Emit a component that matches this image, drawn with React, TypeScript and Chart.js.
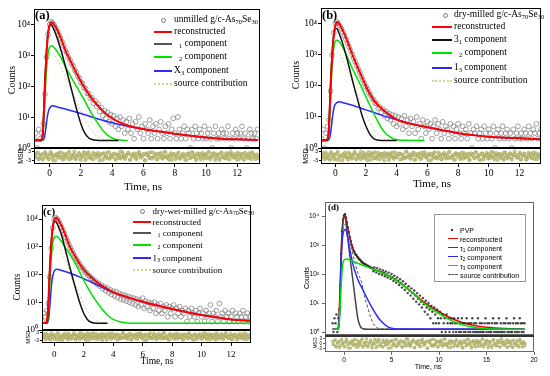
import React, { useEffect, useRef } from 'react';
import { Chart, registerables } from 'chart.js';
Chart.register(...registerables);

type P = [number, number];

const SERIF = '"Liberation Serif", "Times New Roman", serif';
const SANS = '"Liberation Sans", Arial, sans-serif';

const Y_TICKS = [1, 10, 100, 1000, 10000];
const Y_LABELS = ['10⁰', '10¹', '10²', '10³', '10⁴'];
const X_TICKS_ABC = [0, 2, 4, 6, 8, 10, 12];
const X_TICKS_D = [0, 5, 10, 15, 20];
const RES_TICKS = [-3, 0, 3];

// ---------- measured counts (time grid: start + 0.1 ns steps) ----------
const A_DATA = [2,3,1,4,2,3,6,55,850,4600,9600,11900,10800,9100,7400,5900,4500,3500,2650,1980,1430,1160,860,700,530,440,330,275,205,178,132,120,88,82,58,57,40,42,28,33,22,26,15,20,11,16,9,14,7,12,6,11,5,9,4,10,5,8,3,7,4,9,3,6,2,7,4,10,3,5,2,6,4,3,8,2,5,3,6,2,4,7,3,2,5,3,6,2,4,9,3,2,10,4,2,3,5,2,4,3,1,4,2,5,3,2,4,3,2,5,2,3,4,2,1,3,5,2,3,2,4,3,2,3,5,2,1,3,2,4,3,2,3,5,2,3,1,2,4,3,2,3,2,4];
const B_DATA = [2,4,1,3,5,8,70,1000,5200,10000,11700,10500,8700,7000,5500,4200,3200,2400,1850,1400,1050,800,610,460,350,270,205,160,122,96,80,62,52,40,36,28,27,19,21,14,18,11,15,9,13,8,12,6,11,5,10,6,9,4,11,5,8,3,9,5,7,3,10,4,6,2,8,5,3,7,4,6,2,5,8,3,6,4,2,7,3,5,4,2,6,3,5,2,4,6,3,2,5,3,4,2,6,3,1,4,3,5,2,3,4,2,5,3,2,4,3,2,5,1,3,4,2,3,5,2,3,4,2,3,1,4,2,3,5,2,3,2,4,3,2,5,3,2,4,3,6,2,3,4];
const C_DATA = [2,4,3,5,9,80,900,4800,9500,11200,10200,8400,6600,5100,3900,2900,2150,1600,1200,920,720,560,450,360,300,245,200,172,148,120,112,92,88,72,70,56,58,45,48,38,42,31,36,26,32,22,28,19,25,17,24,15,21,13,19,12,18,11,16,10,15,9,14,8,13,7,12,8,14,6,11,7,10,5,9,6,10,4,8,5,9,4,7,5,8,3,7,4,6,8,3,6,4,7,3,5,4,6,2,5,3,6,4,3,5,2,4,6,3,4,2,5,3,4,8,2,4,3,5,2,9,3,4,2,5,3,4,2,3,5,2,4,3,2,4,3,5,2,3,4,2,3,4];
const D_DATA = [2,1,3,2,4,1,3,6,40,500,3000,7500,10500,11500,9000,6000,4000,2800,1900,1380,990,810,650,575,480,450,385,365,322,312,272,265,236,232,212,214,192,195,176,180,163,166,152,125,170,138,112,160,128,100,145,118,92,132,108,84,122,96,76,112,86,68,100,78,58,88,66,50,76,58,42,66,48,34,56,40,28,46,33,22,38,27,18,32,22,14,27,18,11,22,14,9,18,11,7,15,9,5,12,7,4,10,6,3,8,5,2,7,4,2,6,3,2,5,3,1,4,2,3,1,4,2,3,1,2,3,2,1,3,2,1,2,3,1,2,1,3,2,1,2,1,3,2,1,2,1,2,3,1,2,1,2,1,3,1,2,1,2,1,1,2,3,1,2,1,2,1,1,2,3,1,2,1,2,1,3,1,2,1,1,2,1,2,3,1,2,1,2,1,1,2,3,1,2,1,2,1,3,2,1,2,1,2];

// ---------- residuals ----------
const RES1 = [1.2,-0.8,2.1,-1.5,0.3,-2.4,1.7,-0.2,0.9,-1.9,2.6,-0.6,0.1,-2.8,1.4,0.7,-1.1,2.2,-0.4,-1.7,0.8,1.9,-2.2,0.5,-0.9,2.8,-1.3,0.2,1.1,-2.6,0.6,-0.3,1.8,-1.6,2.4,-0.7,0.4,-2.1,1.3,-1.0,2.0,-0.5,0.9,-2.5,1.6,-0.1,-1.4,2.3,-0.8,0.7,1.5,-2.0,0.3,-1.2,2.7,-0.6,1.0,-1.8,0.2,2.1,-2.3,0.8,-0.4,1.7,-1.5,0.5,2.5,-1.1,-0.2,1.2,-2.7,0.6,1.9,-0.9,-1.6,2.2,0.1,-2.0,1.4,-0.5,0.9,-1.3,2.6,-0.7,0.3,-2.4,1.8,-0.2,1.1,-1.9,0.6,2.0,-1.0,-0.6,1.5,-2.2,0.4,1.3,-1.4,2.4,-0.3,0.7,-2.6,1.6,-0.8,0.2,1.9,-1.7,0.5,-0.1,2.3,-2.1,1.0,-0.4,1.4,-1.2,0.8,-2.5,2.1,0.3,-0.9,1.7,-1.6,0.6,2.8,-0.5,-1.1,1.2,-2.3,0.4,1.5,-0.7,-1.8,2.0,0.1,-1.3,0.9,-2.0,1.6,-0.2,0.7,-1.5];
const RES2 = [-0.6,1.8,-2.1,0.4,1.1,-1.4,2.5,-0.3,-1.9,0.9,1.6,-2.6,0.2,0.8,-1.0,2.2,-0.5,-2.3,1.3,0.1,-0.8,2.7,-1.6,0.6,1.0,-2.0,0.3,1.9,-1.2,-0.4,2.4,-2.5,0.7,1.4,-0.9,-1.7,2.0,0.5,-0.2,1.2,-2.8,0.9,1.7,-1.1,0.0,2.3,-1.8,0.4,-0.7,1.5,-2.2,1.1,0.6,-1.5,2.6,-0.4,-1.0,0.8,1.8,-2.4,0.2,1.3,-0.6,-1.9,2.1,0.7,-0.1,1.0,-2.7,1.6,0.3,-1.3,2.4,-0.8,-0.3,1.2,-2.0,0.9,1.9,-1.6,0.1,2.5,-1.2,-0.5,0.6,-2.3,1.4,0.8,-0.9,2.0,-1.7,0.2,1.1,-0.4,-2.6,1.7,0.5,-1.1,2.3,-0.2,-1.8,0.9,1.5,-2.1,0.4,0.0,1.3,-1.4,2.6,-0.7,-0.2,1.8,-2.5,0.6,1.0,-1.3,2.2,-0.6,-1.5,0.3,1.6,-2.2,0.8,1.2,-0.9,-0.1,2.1,-1.9,0.5,1.4,-2.4,0.2,-0.6,1.7,-1.2,2.4,0.1,-2.0,0.9,-0.3];

// ---------- fitted curves ----------
const A_RECON: P[] = [[-1.0,1.8],[-0.6,1.8],[-0.5,2.0],[-0.42,4],[-0.35,25],[-0.28,200],[-0.2,1100],[-0.12,3800],[-0.04,7800],[0.05,10800],[0.12,11500],[0.2,11000],[0.35,8600],[0.5,6200],[0.75,3200],[1.0,1450],[1.25,780],[1.5,430],[1.75,240],[2.0,140],[2.25,85],[2.5,55],[2.75,37],[3.0,26],[3.5,14],[4.0,9],[4.5,6.6],[5.0,5.3],[5.5,4.6],[6.0,4.1],[7.0,3.4],[8.0,2.9],[9.0,2.5],[10.0,2.2],[11.0,2.0],[12.0,1.9],[13.3,1.8]];
const A_T1: P[] = [[-1.0,1.75],[-0.55,1.75],[-0.45,2.5],[-0.38,15],[-0.3,150],[-0.22,1000],[-0.14,3500],[-0.05,7500],[0.05,9500],[0.12,9300],[0.25,7000],[0.5,3300],[0.75,1300],[1.0,450],[1.25,150],[1.5,48],[1.75,16],[2.0,6],[2.25,3],[2.5,2.1],[2.75,1.85],[3.0,1.78],[3.5,1.75],[4.4,1.75]];
const A_T2: P[] = [[-1.0,1.75],[-0.5,1.75],[-0.42,2.5],[-0.35,12],[-0.27,90],[-0.18,500],[-0.08,1300],[0.05,1950],[0.15,2000],[0.3,1700],[0.5,1250],[0.75,780],[1.0,420],[1.25,250],[1.5,150],[1.75,90],[2.0,55],[2.25,33],[2.5,19],[2.75,11.5],[3.0,7.2],[3.25,4.7],[3.5,3.3],[3.75,2.5],[4.0,2.1],[4.25,1.9],[4.5,1.8],[5.0,1.75]];
const A_T3: P[] = [[-1.0,1.75],[-0.5,1.75],[-0.35,2.0],[-0.25,4],[-0.15,10],[-0.05,17],[0.05,21],[0.2,23],[0.5,21],[1.0,18],[2.0,13],[3.0,9],[4.0,6.5],[5.0,5.0],[6.0,4.0],[7.0,3.4],[8.0,2.9],[9.0,2.5],[10.0,2.2],[11.0,2.0],[12.0,1.9],[13.3,1.8]];
const A_SRC: P[] = [[-1.0,1.75],[-0.5,1.75],[-0.4,2.5],[-0.32,15],[-0.24,120],[-0.15,500],[-0.05,1000],[0.1,1250],[0.25,1100],[0.5,700],[0.75,380],[1.0,200],[1.25,105],[1.5,55],[1.75,28],[2.0,15],[2.25,8.5],[2.5,5],[2.75,3.3],[3.0,2.5],[3.25,2.1],[3.5,1.9],[4.0,1.78],[4.5,1.75]];

const B_RECON: P[] = [[-0.93,1.8],[-0.6,1.8],[-0.48,2.2],[-0.4,6],[-0.33,40],[-0.26,280],[-0.18,1300],[-0.1,4000],[-0.02,8000],[0.06,10800],[0.12,11500],[0.2,11000],[0.35,8400],[0.5,6000],[0.75,3100],[1.0,1450],[1.25,700],[1.5,360],[1.75,185],[2.0,98],[2.25,56],[2.5,35],[2.75,25],[3.0,19],[3.5,12],[4.0,8.2],[4.5,6.8],[5.0,5.9],[6.0,4.7],[7.0,3.7],[8.0,3.0],[9.0,2.6],[10.0,2.3],[11.0,2.15],[12.0,2.05],[13.4,1.9]];
const B_T1: P[] = [[-0.93,1.75],[-0.55,1.75],[-0.45,2.5],[-0.38,15],[-0.3,150],[-0.22,900],[-0.14,3000],[-0.05,6200],[0.05,7200],[0.12,7000],[0.25,5000],[0.5,2200],[0.75,800],[1.0,260],[1.25,85],[1.5,30],[1.75,11],[2.0,5],[2.25,2.8],[2.5,2.0],[2.75,1.8],[3.0,1.76],[4.0,1.75]];
const B_T2: P[] = [[-0.93,1.75],[-0.5,1.75],[-0.42,2.5],[-0.35,14],[-0.27,120],[-0.18,700],[-0.08,2000],[0.05,2900],[0.15,3000],[0.3,2500],[0.5,1700],[0.75,950],[1.0,480],[1.25,270],[1.5,150],[1.75,82],[2.0,44],[2.25,24],[2.5,13],[2.75,7.5],[3.0,4.5],[3.25,3.1],[3.5,2.4],[3.75,2.0],[4.0,1.85],[4.5,1.77],[5.8,1.75]];
const B_T3: P[] = [[-0.93,1.75],[-0.5,1.75],[-0.35,2.2],[-0.25,5],[-0.15,13],[-0.05,23],[0.1,29],[0.25,31],[0.5,29],[1.0,25],[2.0,17],[3.0,11.5],[4.0,8.2],[5.0,5.9],[6.0,4.7],[7.0,3.7],[8.0,3.0],[9.0,2.6],[10.0,2.3],[11.0,2.15],[12.0,2.05],[13.4,1.9]];
const B_SRC: P[] = [[-0.93,1.75],[-0.5,1.75],[-0.4,2.5],[-0.32,15],[-0.24,120],[-0.15,500],[-0.05,1000],[0.1,1250],[0.25,1100],[0.5,700],[0.75,370],[1.0,190],[1.25,95],[1.5,48],[1.75,24],[2.0,13],[2.25,7],[2.5,4.3],[2.75,3.0],[3.0,2.4],[3.25,2.0],[3.5,1.85],[4.0,1.76],[4.5,1.75]];

const C_RECON: P[] = [[-0.83,1.8],[-0.6,1.8],[-0.5,2.2],[-0.42,6],[-0.35,40],[-0.28,280],[-0.2,1300],[-0.12,4000],[-0.04,7800],[0.04,10300],[0.12,11000],[0.2,10500],[0.35,8000],[0.5,5600],[0.75,2700],[1.0,1200],[1.25,640],[1.5,380],[1.75,230],[2.0,150],[2.5,80],[3.0,48],[3.5,33],[4.0,23],[5.0,15],[6.0,10.5],[7.0,7.6],[8.0,5.7],[9.0,4.4],[10.0,3.5],[11.0,2.9],[12.0,2.4],[13.35,2.1]];
const C_T1: P[] = [[-0.83,1.75],[-0.55,1.75],[-0.45,2.5],[-0.38,15],[-0.3,150],[-0.22,1000],[-0.14,3500],[-0.05,7000],[0.05,8200],[0.12,8000],[0.25,5800],[0.5,2600],[0.75,800],[1.0,240],[1.25,75],[1.5,25],[1.75,9],[2.0,4],[2.25,2.4],[2.5,1.9],[2.75,1.78],[3.0,1.75],[3.6,1.75]];
const C_T2: P[] = [[-0.83,1.75],[-0.5,1.75],[-0.42,2.5],[-0.35,12],[-0.27,100],[-0.18,600],[-0.08,1600],[0.05,2300],[0.15,2400],[0.3,2100],[0.5,1500],[0.75,950],[1.0,600],[1.25,360],[1.5,210],[1.75,115],[2.0,62],[2.25,35],[2.5,21],[2.75,13],[3.0,8.5],[3.25,5.6],[3.5,4.0],[3.75,3.0],[4.0,2.4],[4.5,1.95],[5.0,1.8],[6.0,1.75],[13.35,1.75]];
const C_T3: P[] = [[-0.83,1.75],[-0.5,1.75],[-0.38,2.5],[-0.28,10],[-0.18,45],[-0.08,100],[0.05,145],[0.2,155],[0.5,140],[1.0,115],[2.0,70],[3.0,40],[3.5,30],[4.0,23],[5.0,15],[6.0,10.5],[7.0,7.6],[8.0,5.7],[9.0,4.4],[10.0,3.5],[11.0,2.9],[12.0,2.4],[13.35,2.1]];
const C_SRC: P[] = [[-0.83,1.75],[-0.5,1.75],[-0.4,2.5],[-0.32,15],[-0.24,120],[-0.15,500],[-0.05,1000],[0.1,1200],[0.25,1050],[0.5,650],[0.75,330],[1.0,160],[1.25,75],[1.5,36],[1.75,17],[2.0,8.5],[2.25,4.8],[2.5,3.2],[2.75,2.4],[3.0,2.05],[3.25,1.88],[3.5,1.8],[4.0,1.75]];

const D_RECON: P[] = [[-1.2,1.25],[-0.7,1.25],[-0.6,1.6],[-0.5,5],[-0.4,40],[-0.3,500],[-0.2,3000],[-0.1,7500],[0.0,10500],[0.1,11500],[0.2,9000],[0.3,6000],[0.5,2800],[0.75,1250],[1.0,650],[1.5,360],[2.0,240],[2.5,190],[3.0,155],[4.0,110],[5.0,77],[6.0,47],[7.0,26],[8.0,14],[9.0,8],[10.0,5],[11.0,3.3],[12.0,2.4],[13.0,1.9],[14.0,1.6],[15.0,1.45],[17.0,1.32],[19.0,1.28]];
const D_T1: P[] = [[-1.2,1.25],[-0.6,1.25],[-0.5,3],[-0.4,30],[-0.3,400],[-0.2,2500],[-0.1,6500],[0.0,9500],[0.1,10500],[0.2,6500],[0.3,3200],[0.5,900],[0.7,250],[0.95,55],[1.2,12],[1.45,3],[1.7,1.6],[2.0,1.3],[2.5,1.25],[19.0,1.25]];
const D_T2: P[] = [[-1.2,1.25],[-0.6,1.25],[-0.5,2.5],[-0.4,20],[-0.3,250],[-0.2,1200],[-0.1,2500],[0.05,3300],[0.15,3400],[0.3,2600],[0.5,1100],[0.75,420],[1.0,180],[1.5,60],[2.0,28],[2.5,13],[3.0,6.5],[3.5,3.5],[4.0,2.2],[4.5,1.6],[5.0,1.35],[6.0,1.26],[19.0,1.25]];
const D_T3: P[] = [[-1.2,1.25],[-0.6,1.25],[-0.5,2],[-0.4,8],[-0.3,40],[-0.2,130],[-0.1,250],[0.1,320],[0.3,330],[0.6,300],[1.0,270],[2.0,200],[3.0,150],[4.0,110],[5.0,77],[6.0,47],[7.0,26],[8.0,13],[9.0,7],[10.0,4.3],[11.0,2.8],[12.0,2.0],[13.0,1.6],[14.0,1.4],[15.0,1.3],[16.0,1.27],[19.0,1.25]];
const D_SRC: P[] = [[-1.2,1.25],[-0.6,1.25],[-0.5,2],[-0.4,20],[-0.3,250],[-0.2,1500],[-0.1,3500],[0.05,5000],[0.15,5200],[0.3,3800],[0.5,2000],[0.75,900],[1.0,400],[1.25,190],[1.5,100],[1.83,55],[2.2,15],[2.5,7],[2.8,3.2],[3.2,1.7],[3.6,1.35],[4.0,1.27],[19.0,1.25]];

// ---------- colours ----------
const RED = '#ff0000';
const GREEN = '#00e000';
const BLUE = '#2a2aff';
const SRC_YEL = '#d2d29a';

interface Curve { pts: P[]; color: string; width: number; dash?: number[]; order: number }
interface Panel {
  L: number; R: number; T: number; B: number; RB: number; W: number; Hx: number;
  xMin: number; xMax: number; yMin: number; yMax: number; xTicks: number[];
  family: string; tickSize: number; resTickSize: number; xTickPad: number; yTickPad: number;
  data: number[]; dataX0: number; dot: boolean;
  resA: number[]; resB: number[]; resX0: number; resX1: number;
  curves: Curve[]; frame: string; sepW: number;
}

const PANELS: Panel[] = [
  { L: 34, R: 260, T: 9, B: 148, RB: 164, W: 34, Hx: 20, xMin: -1.0, xMax: 13.45, yMin: 1, yMax: 30500, xTicks: X_TICKS_ABC,
    family: SERIF, tickSize: 9.5, resTickSize: 5.5, xTickPad: 1, yTickPad: 1, data: A_DATA, dataX0: -1.0, dot: false,
    resA: RES1, resB: RES2, resX0: -0.95, resX1: 13.3, frame: '#000', sepW: 1,
    curves: [
      { pts: A_SRC, color: SRC_YEL, width: 1, dash: [2, 2], order: 6 },
      { pts: A_T3, color: BLUE, width: 1.5, order: 5 },
      { pts: A_T2, color: GREEN, width: 1.5, order: 4 },
      { pts: A_T1, color: '#111', width: 1.5, order: 3 },
      { pts: A_RECON, color: RED, width: 2, order: 1 },
    ] },
  { L: 321, R: 541, T: 8, B: 148, RB: 164, W: 40, Hx: 20, xMin: -0.93, xMax: 13.4, yMin: 1, yMax: 32800, xTicks: X_TICKS_ABC,
    family: SERIF, tickSize: 9.5, resTickSize: 5.5, xTickPad: 1, yTickPad: 1, data: B_DATA, dataX0: -0.9, dot: false,
    resA: RES2, resB: RES1, resX0: -0.9, resX1: 13.35, frame: '#000', sepW: 1,
    curves: [
      { pts: B_SRC, color: SRC_YEL, width: 1, dash: [2, 2], order: 6 },
      { pts: B_T3, color: BLUE, width: 1.5, order: 5 },
      { pts: B_T2, color: GREEN, width: 1.5, order: 4 },
      { pts: B_T1, color: '#111', width: 1.5, order: 3 },
      { pts: B_RECON, color: RED, width: 2, order: 1 },
    ] },
  { L: 42, R: 251, T: 205, B: 330, RB: 343, W: 40, Hx: 20, xMin: -0.83, xMax: 13.35, yMin: 1, yMax: 32000, xTicks: X_TICKS_ABC,
    family: SERIF, tickSize: 9, resTickSize: 5, xTickPad: 3, yTickPad: 1, data: C_DATA, dataX0: -0.8, dot: false,
    resA: RES2, resB: RES1, resX0: -0.8, resX1: 13.3, frame: '#000', sepW: 1,
    curves: [
      { pts: C_SRC, color: SRC_YEL, width: 1, dash: [2, 2], order: 6 },
      { pts: C_T3, color: BLUE, width: 1.5, order: 5 },
      { pts: C_T2, color: GREEN, width: 1.5, order: 4 },
      { pts: C_T1, color: '#111', width: 1.5, order: 3 },
      { pts: C_RECON, color: RED, width: 2, order: 1 },
    ] },
  { L: 325, R: 534, T: 202, B: 335, RB: 352, W: 40, Hx: 14, xMin: -2, xMax: 20, yMin: 0.79, yMax: 30400, xTicks: X_TICKS_D,
    family: SANS, tickSize: 6.5, resTickSize: 4.5, xTickPad: 1, yTickPad: 3, data: D_DATA, dataX0: -1.2, dot: true,
    resA: RES1, resB: RES2, resX0: -1.2, resX1: 19.0, frame: '#666', sepW: 2,
    curves: [
      { pts: D_RECON, color: RED, width: 1.5, order: 25 },
      { pts: D_SRC, color: '#555', width: 1, dash: [3, 2], order: 6 },
      { pts: D_T3, color: GREEN, width: 1.5, order: 3 },
      { pts: D_T2, color: BLUE, width: 1.5, order: 4 },
      { pts: D_T1, color: '#444', width: 1.5, order: 5 },
    ] },
];

const framePlugin = (color: string, topW: number) => ({
  id: 'frame',
  afterDraw(chart: any) {
    const { ctx, chartArea: a } = chart;
    ctx.save();
    ctx.strokeStyle = color;
    ctx.lineWidth = 1;
    ctx.strokeRect(a.left + 0.5, a.top + 0.5, a.right - a.left - 1, a.bottom - a.top - 1);
    if (topW > 1) {
      ctx.strokeStyle = '#333';
      ctx.lineWidth = topW;
      ctx.beginPath();
      ctx.moveTo(a.left, a.top + topW / 2);
      ctx.lineTo(a.right, a.top + topW / 2);
      ctx.stroke();
    }
    ctx.restore();
  },
});

const PAD_T = 4;
const PAD_R = 4;
const PAD_B = 6;

const noPad = (s: any) => { s.paddingTop = 0; s.paddingBottom = 0; s.paddingLeft = 0; s.paddingRight = 0; };

function mainConfig(p: Panel): any {
  const datasets: any[] = [
    {
      data: p.data.map((y, i) => ({ x: p.dataX0 + i * 0.1, y })),
      order: 20,
      pointRadius: p.dot ? 1.2 : 2.4,
      pointBorderWidth: p.dot ? 0 : 0.7,
      pointBorderColor: p.dot ? 'rgba(40,40,40,0.85)' : '#7a7a7a',
      pointBackgroundColor: p.dot ? 'rgba(40,40,40,0.85)' : 'rgba(0,0,0,0)',
    },
    ...p.curves.map(c => ({
      data: c.pts.map(([x, y]) => ({ x, y })),
      showLine: true,
      borderColor: c.color,
      borderWidth: c.width,
      borderDash: c.dash || [],
      pointRadius: 0,
      cubicInterpolationMode: 'monotone',
      order: c.order,
    })),
  ];
  return {
    type: 'scatter',
    data: { datasets },
    options: {
      animation: false, responsive: false, events: [],
      layout: { padding: { top: PAD_T, right: PAD_R, left: 0, bottom: PAD_B }, autoPadding: false },
      plugins: { legend: { display: false }, tooltip: { enabled: false } },
      scales: {
        x: { type: 'linear', display: false, min: p.xMin, max: p.xMax, afterFit: noPad },
        y: {
          type: 'logarithmic', min: p.yMin, max: p.yMax,
          afterBuildTicks: (s: any) => { s.ticks = Y_TICKS.map(v => ({ value: v })); },
          afterFit: (s: any) => { s.width = p.W; noPad(s); },
          ticks: {
            callback: (v: any) => { const i = Y_TICKS.indexOf(Number(v)); return i >= 0 ? Y_LABELS[i] : ''; },
            font: { family: p.family, size: p.tickSize }, color: '#000', padding: p.yTickPad,
          },
          grid: { display: true, drawOnChartArea: false, tickLength: 3, color: p.frame },
          border: { display: false },
        },
      },
    },
    plugins: [framePlugin(p.frame, 1)],
  };
}

function resSeries(vals: number[], x0: number, x1: number, shift: number) {
  const step = (x1 - x0) / (vals.length - 1);
  return vals.map((y, i) => ({ x: x0 + i * step + shift * step, y }));
}

function resConfig(p: Panel): any {
  const common = {
    pointRadius: p.dot ? 1.3 : 1.6,
    pointBorderWidth: 0.5,
    pointBorderColor: '#9c9c50',
    pointBackgroundColor: 'rgba(196,196,128,0.9)',
  };
  return {
    type: 'scatter',
    data: {
      datasets: [
        { data: resSeries(p.resA, p.resX0, p.resX1, 0), ...common },
        { data: resSeries(p.resB, p.resX0, p.resX1, 0.5), ...common },
      ],
    },
    options: {
      animation: false, responsive: false, events: [],
      layout: { padding: { top: 0, right: PAD_R, left: 0, bottom: 0 }, autoPadding: false },
      plugins: { legend: { display: false }, tooltip: { enabled: false } },
      scales: {
        x: {
          type: 'linear', min: p.xMin, max: p.xMax,
          afterBuildTicks: (s: any) => { s.ticks = p.xTicks.map(v => ({ value: v })); },
          afterFit: (s: any) => { s.height = p.Hx; noPad(s); },
          ticks: { font: { family: p.family, size: p.family === SANS ? 6.5 : p.tickSize }, color: '#000', padding: p.xTickPad, maxRotation: 0, autoSkip: false },
          grid: { display: true, drawOnChartArea: false, tickLength: 3, color: p.frame },
          border: { display: false },
        },
        y: {
          type: 'linear', min: -5, max: 5,
          afterBuildTicks: (s: any) => { s.ticks = RES_TICKS.map(v => ({ value: v })); },
          afterFit: (s: any) => { s.width = p.W; noPad(s); },
          ticks: { font: { family: SANS, size: p.resTickSize }, color: '#000', padding: 1 },
          grid: { display: true, drawOnChartArea: false, tickLength: 2, color: p.frame },
          border: { display: false },
        },
      },
    },
    plugins: [framePlugin(p.frame, p.sepW)],
  };
}

function ChartCanvas({ left, top, width, height, make }: { left: number; top: number; width: number; height: number; make: () => any }) {
  const ref = useRef<HTMLCanvasElement>(null);
  useEffect(() => {
    const c = new Chart(ref.current as HTMLCanvasElement, make());
    return () => c.destroy();
  }, []);
  return <canvas ref={ref} width={width} height={height} style={{ position: 'absolute', left, top, width, height }} />;
}

function Txt({ x, y, s, f, children, center = false, rot = false, bold = false }: any) {
  const tr = center || rot ? 'translate(-50%, -50%)' : 'translate(0, -50%)';
  return (
    <div style={{ position: 'absolute', left: x, top: y, fontSize: s, fontFamily: f, fontWeight: bold ? 'bold' : 'normal', lineHeight: 1, whiteSpace: 'nowrap', color: '#000', transform: tr + (rot ? ' rotate(-90deg)' : '') }}>
      {children}
    </div>
  );
}

const Sub = ({ children }: any) => <sub style={{ fontSize: '0.68em', verticalAlign: '-0.3em', lineHeight: 0 }}>{children}</sub>;
const Gap = ({ w }: { w: number }) => <span style={{ display: 'inline-block', width: w }} />;

interface LegRow { y: number; kind: 'circle' | 'dot' | 'line'; color: string; dash?: string; text: any }
function Legend({ x1, x2, tx, mx, size, f, rows, lw = 2 }: { x1: number; x2: number; tx: number; mx: number; size: number; f: string; rows: LegRow[]; lw?: number }) {
  return (
    <>
      {rows.map((r, i) => (
        <React.Fragment key={i}>
          {r.kind === 'circle' && <div style={{ position: 'absolute', left: mx - 2.2, top: r.y - 2.2, width: 3.4, height: 3.4, border: '0.8px solid #777', borderRadius: '50%' }} />}
          {r.kind === 'dot' && <div style={{ position: 'absolute', left: mx - 1, top: r.y - 1, width: 2, height: 2, background: '#333' }} />}
          {r.kind === 'line' && <div style={{ position: 'absolute', left: x1, top: r.y - lw / 2, width: x2 - x1, height: 0, borderTop: `${lw}px ${r.dash || 'solid'} ${r.color}` }} />}
          <Txt x={tx} y={r.y} s={size} f={f}>{r.text}</Txt>
        </React.Fragment>
      ))}
    </>
  );
}

const As = () => <>g/c-As<Sub>70</Sub>Se<Sub>30</Sub></>;

export default function App() {
  return (
    <div style={{ position: 'fixed', left: 0, top: 0, width: 550, height: 376, background: '#fff', overflow: 'hidden' }}>
      {PANELS.map((p, i) => (
        <React.Fragment key={i}>
          <ChartCanvas left={p.L - p.W} top={p.T - PAD_T} width={p.W + (p.R - p.L) + PAD_R} height={PAD_T + (p.B - p.T) + PAD_B} make={() => mainConfig(p)} />
          <ChartCanvas left={p.L - p.W} top={p.B} width={p.W + (p.R - p.L) + PAD_R} height={(p.RB - p.B) + p.Hx} make={() => resConfig(p)} />
        </React.Fragment>
      ))}

      {/* panel (a) */}
      <Txt x={35} y={15} s={12.5} f={SERIF} bold>(a)</Txt>
      <Txt x={12} y={80} s={10} f={SERIF} rot>Counts</Txt>
      <Txt x={20} y={156} s={7} f={SANS} rot>MSD</Txt>
      <Txt x={143} y={186} s={11} f={SERIF} center>Time, ns</Txt>
      <Legend x1={154} x2={172} tx={174} mx={163} size={9.5} f={SERIF} rows={[
        { y: 20, kind: 'circle', color: '#777', text: <>unmilled <As /></> },
        { y: 32, kind: 'line', color: RED, text: 'reconstructed' },
        { y: 44, kind: 'line', color: '#555', text: <><Gap w={5} /><Sub>1</Sub> component</> },
        { y: 57, kind: 'line', color: GREEN, text: <><Gap w={5} /><Sub>2</Sub> component</> },
        { y: 71, kind: 'line', color: BLUE, text: <>X<Sub>3</Sub> component</> },
        { y: 84, kind: 'line', color: SRC_YEL, dash: 'dotted', text: 'source contribution' },
      ]} />

      {/* panel (b) */}
      <Txt x={322} y={15} s={12.5} f={SERIF} bold>(b)</Txt>
      <Txt x={296} y={75} s={10} f={SERIF} rot>Counts</Txt>
      <Txt x={305} y={156} s={7} f={SANS} rot>MSD</Txt>
      <Txt x={432} y={183} s={11} f={SERIF} center>Time, ns</Txt>
      <Legend x1={432} x2={452} tx={454} mx={445} size={9.5} f={SERIF} rows={[
        { y: 15, kind: 'circle', color: '#777', text: <>dry-milled <As /></> },
        { y: 27, kind: 'line', color: RED, text: 'reconstructed' },
        { y: 40, kind: 'line', color: '#111', text: <>3<Sub>1</Sub> component</> },
        { y: 53, kind: 'line', color: GREEN, text: <><Gap w={5} /><Sub>2</Sub> component</> },
        { y: 67.5, kind: 'line', color: BLUE, text: <>1<Sub>3</Sub> component</> },
        { y: 81, kind: 'line', color: SRC_YEL, dash: 'dotted', text: 'source contribution' },
      ]} />

      {/* panel (c) */}
      <Txt x={43} y={211} s={11} f={SERIF} bold>(c)</Txt>
      <Txt x={18} y={287} s={9.5} f={SERIF} rot>Counts</Txt>
      <Txt x={28} y={337} s={6} f={SANS} rot>MSD</Txt>
      <Txt x={157} y={362} s={9.5} f={SERIF} center>Time, ns</Txt>
      <Legend x1={133} x2={151} tx={152.5} mx={142} size={9} f={SERIF} rows={[
        { y: 211, kind: 'circle', color: '#777', text: <>dry-wet-milled <As /></> },
        { y: 222, kind: 'line', color: RED, text: 'reconstructed' },
        { y: 232.5, kind: 'line', color: '#555', text: <><Gap w={5} /><Sub>1</Sub> component</> },
        { y: 245, kind: 'line', color: GREEN, text: <><Gap w={5} /><Sub>2</Sub> component</> },
        { y: 258, kind: 'line', color: BLUE, text: <>1<Sub>3</Sub> component</> },
        { y: 269.5, kind: 'line', color: SRC_YEL, dash: 'dotted', text: 'source contribution' },
      ]} />

      {/* panel (d) */}
      <Txt x={328} y={207} s={9} f={SERIF} bold>(d)</Txt>
      <Txt x={306} y={278} s={7} f={SANS} rot>Counts</Txt>
      <Txt x={315} y={343} s={5} f={SANS} rot>MSD</Txt>
      <Txt x={428} y={366} s={7} f={SANS} center>Time, ns</Txt>
      <div style={{ position: 'absolute', left: 434, top: 214, width: 90, height: 66, border: '1px solid #999' }} />
      <Legend x1={448} x2={458} tx={460} mx={452} size={7} f={SANS} lw={1.5} rows={[
        { y: 230, kind: 'dot', color: '#333', text: 'PVP' },
        { y: 239, kind: 'line', color: RED, text: 'reconstructed' },
        { y: 247.5, kind: 'line', color: '#444', text: <>τ<Sub>1</Sub> component</> },
        { y: 256.5, kind: 'line', color: BLUE, text: <>τ<Sub>2</Sub> component</> },
        { y: 265.5, kind: 'line', color: GREEN, text: <>τ<Sub>3</Sub> component</> },
        { y: 274.5, kind: 'line', color: '#555', dash: 'dashed', text: 'source contribution' },
      ]} />
    </div>
  );
}
